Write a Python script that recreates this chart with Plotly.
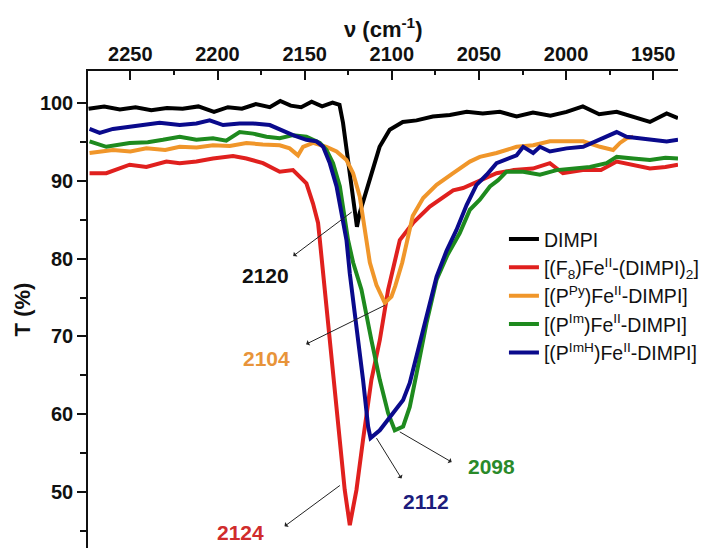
import plotly.graph_objects as go

# ---------------- data ----------------
nu_dimpi = [2274, 2265, 2256, 2247, 2238, 2229, 2220, 2211, 2202, 2194, 2186, 2178, 2170, 2164,
            2158, 2152, 2146, 2140, 2134, 2130, 2128, 2126, 2124, 2122, 2120, 2118.4, 2115.5, 2112.7,
            2107, 2101.2, 2093.7, 2085.8, 2076.5, 2066.7, 2057, 2047.8, 2038, 2028.4, 2019, 2009,
            1999.7, 1990.4, 1981, 1971, 1961.5, 1951.9, 1942.3, 1935.8]
t_dimpi = [99.3, 99.6, 99.2, 99.5, 99.1, 99.4, 99.3, 99.6, 98.9, 99.5, 99.3, 99.9, 99.5, 100.3,
           99.7, 99.5, 100.2, 99.6, 100.1, 99.8, 97.5, 94.0, 90.5, 87.0, 84.1, 85.9, 88.0, 90.1,
           94.4, 96.6, 97.6, 97.8, 98.3, 98.5, 98.9, 98.7, 98.9, 98.3, 98.8, 98.4,
           98.9, 99.6, 98.6, 98.9, 98.3, 97.6, 98.7, 98.1]

nu_f8 = [2273.4, 2263.8, 2250.4, 2240.8, 2229.3, 2221.7, 2212.1, 2202.6, 2191.1, 2183.4, 2173.9,
         2164.3, 2156.7, 2149, 2145.2, 2142.3, 2141.3, 2137.5, 2133.7, 2129.8, 2127, 2124.1,
         2120.3, 2116.5, 2111.7, 2106.9, 2102.1, 2095.4, 2087.8, 2078.2, 2064.8, 2059.1, 2049.5,
         2039.9, 2030, 2019.1, 2009.3, 2001.8, 1990.4, 1980, 1971, 1961.7, 1951.9, 1943, 1935.8]
t_f8 = [91.0, 91.0, 92.1, 91.8, 92.5, 92.3, 92.5, 92.9, 93.2, 92.9, 92.3,
        91.2, 91.4, 89.7, 87.1, 84.6, 82.4, 73.8, 65.2, 56.7, 50.2, 45.7,
        50.2, 56.7, 64.4, 69.5, 76.0, 82.4, 84.6, 86.7, 88.8, 89.1, 90.1,
        91.0, 91.4, 91.6, 92.3, 91.0, 91.4, 91.4, 92.5, 92.1, 91.6, 91.8, 92.1]

nu_ppy = [2273.4, 2260, 2250, 2240.8, 2230, 2221.7, 2212, 2202.6, 2193, 2183.4, 2174, 2164.3,
          2158.6, 2153.8, 2150.9, 2145.2, 2137.5, 2131.7, 2126, 2122.2, 2118.4, 2115.5, 2112.6,
          2108.8, 2104, 2100.2, 2098, 2094, 2091, 2088, 2082, 2074.3, 2064.8, 2055.2, 2049.5,
          2039.9, 2028.4, 2018.9, 2009.3, 1999.7, 1990.2, 1980.6, 1973, 1969.1, 1965.3, 1961.5]
t_ppy = [93.6, 94.0, 93.8, 94.2, 94.0, 94.4, 94.3, 94.6, 94.5, 94.9, 94.7, 94.6,
         94.2, 93.3, 94.4, 94.9, 94.4, 93.8, 92.7, 91.0, 88.0, 83.7, 79.5,
         76.6, 74.3, 75.1, 76.5, 79.5, 82.5, 85.5, 87.8, 89.5, 91.0, 92.5, 93.1,
         93.6, 94.4, 94.6, 95.1, 95.1, 95.1, 94.4, 94.0, 94.9, 95.5, 95.7]

nu_pim = [2273.4, 2263.8, 2250.4, 2240, 2231.3, 2221.7, 2212.1, 2202.6, 2195, 2187.3, 2179.6,
          2171.9, 2164.3, 2156.7, 2149, 2141.3, 2137.5, 2133.7, 2129.8, 2127, 2125.1, 2122.2,
          2117.4, 2111.7, 2106.9, 2102.1, 2098.3, 2093.5, 2089.7, 2085.8, 2080.1, 2074.3,
          2068, 2061, 2055.2, 2049.5, 2043.7, 2039, 2034.2, 2024.6, 2015, 2005.5, 1995.9,
          1986.3, 1976.8, 1971, 1961.5, 1951.9, 1943, 1935.8]
t_pim = [95.1, 94.4, 94.9, 95.0, 95.3, 95.7, 95.3, 95.5, 95.2, 96.3, 96.1,
         95.7, 95.5, 95.9, 95.7, 94.9, 94.0, 92.3, 89.3, 85.0, 82.4, 79.5,
         76.0, 69.5, 64.4, 60.1, 57.9, 58.4, 60.9, 65.2, 71.7, 77.3,
         80.5, 83.3, 86.3, 87.6, 89.3, 90.1, 91.2, 91.2, 90.8, 91.4, 91.6,
         91.8, 92.3, 93.1, 92.9, 92.7, 93.0, 92.9]

nu_pimh = [2273.4, 2267.6, 2260, 2250.4, 2240.8, 2233.2, 2221.7, 2212.1, 2204.5, 2196.8, 2187.3,
           2179.6, 2170, 2164.3, 2156.7, 2149, 2143.2, 2139.4, 2135.6, 2131.7, 2128.9, 2126,
           2124.1, 2120.3, 2116.5, 2113.6, 2112.2, 2106.9, 2099.3, 2093.5, 2089.7, 2085.8,
           2080.1, 2074.3, 2068.6, 2062.9, 2057.1, 2051.4, 2045.6, 2039.9, 2028.4, 2024.6,
           2018.9, 2015, 2009.3, 1999.7, 1990.2, 1980.6, 1971, 1965.3, 1957.6, 1951.9, 1942.3, 1935.8]
t_pimh = [96.7, 96.2, 96.7, 97.0, 97.2, 97.5, 97.2, 97.4, 97.8, 97.2, 97.4,
          97.4, 97.2, 96.6, 95.9, 95.3, 95.1, 94.4, 92.3, 89.3, 85.8, 82.4,
          78.1, 71.7, 64.4, 58.4, 56.9, 57.9, 60.1, 61.8, 64.0, 67.4,
          72.5, 77.7, 81.0, 83.7, 86.9, 89.5, 90.8, 92.3, 93.3, 94.4,
          93.6, 94.4, 93.8, 94.2, 94.4, 95.3, 96.3, 95.7, 95.5, 95.3, 95.1, 95.3]

series_names = ["DIMPI",
                "[(F<sub>8</sub>)Fe<sup>II</sup>-(DIMPI)<sub>2</sub>]",
                "[(P<sup>Py</sup>)Fe<sup>II</sup>-DIMPI]",
                "[(P<sup>Im</sup>)Fe<sup>II</sup>-DIMPI]",
                "[(P<sup>ImH</sup>)Fe<sup>II</sup>-DIMPI]"]
series_x = [nu_dimpi, nu_f8, nu_ppy, nu_pim, nu_pimh]
series_y = [t_dimpi, t_f8, t_ppy, t_pim, t_pimh]
series_colors = ["#000000", "#E0201E", "#F0962A", "#1E8A1E", "#0A0A8C"]

# peak labels: text, text position, arrow tail (on curve), arrow head, colour
peak_labels = ["2120", "2104", "2124", "2112", "2098"]
label_pos = [(2172.3, 77.8), (2171.9, 67.1), (2187.0, 44.7), (2080.6, 48.8), (2043.0, 53.3)]
arrow_tail = [(2123.0, 86.0), (2104.0, 74.0), (2129.8, 50.8), (2108.8, 56.9), (2095.4, 57.7)]
arrow_head = [(2157.4, 80.2), (2150.0, 68.9), (2162.4, 45.4), (2093.9, 51.5), (2064.8, 53.7)]
label_colors = ["#111111", "#E8943A", "#D02C2C", "#1C1C7C", "#2A8A2A"]

x_range = [2274.3, 1935.8]
y_range = [42.75, 104.16]

FONT = "Liberation Sans, Arial, sans-serif"

fig = go.Figure()
for i, (name, xs, ys, c) in enumerate(zip(series_names, series_x, series_y, series_colors)):
    fig.add_trace(go.Scatter(x=xs, y=ys, mode="lines", name=name, legendgroup=f"g{i}",
                             line=dict(color=c, width=4)))

for txt, (tx, ty), (sx, sy), (hx, hy), c in zip(peak_labels, label_pos, arrow_tail,
                                                arrow_head, label_colors):
    fig.add_annotation(x=sx, y=sy, ax=hx, ay=hy, xref="x", yref="y", axref="x", ayref="y",
                       text="", showarrow=True, arrowside="start", arrowhead=2,
                       arrowsize=1.4, arrowwidth=1, arrowcolor="#222222")
    fig.add_annotation(x=tx, y=ty, xref="x", yref="y", text=txt, showarrow=False,
                       font=dict(family=FONT, size=21, color=c, weight="bold"))

# top axis title placed above the tick labels
fig.add_annotation(x=0.5, y=1, xref="paper", yref="paper", xanchor="center", yanchor="bottom",
                   yshift=27, showarrow=False, text="ν (cm<sup>-1</sup>)",
                   font=dict(family=FONT, size=22, color="#111111", weight="bold"))

fig.update_layout(
    width=705, height=548,
    margin=dict(l=88, r=27, t=71, b=0, autoexpand=False),
    plot_bgcolor="white", paper_bgcolor="white",
    font=dict(family=FONT, color="#111111"),
    showlegend=True,
    legend=dict(x=0.705, y=0.688, xanchor="left", yanchor="top",
                bgcolor="rgba(0,0,0,0)", font=dict(family=FONT, size=19.5, color="#111111"),
                tracegroupgap=0),
)
fig.update_xaxes(
    range=x_range, side="top", showline=True, linecolor="#111111", linewidth=1.5,
    ticks="inside", ticklen=9, tickwidth=1.5, tickcolor="#111111", dtick=50, tick0=2000,
    minor=dict(ticks="inside", ticklen=4, tickwidth=1.5, tickcolor="#111111", dtick=25, tick0=2000),
    showgrid=False, zeroline=False, mirror=False,
    tickfont=dict(family=FONT, size=20, color="#111111", weight="bold"),
    automargin=False,
)
fig.update_yaxes(
    range=y_range, showline=True, linecolor="#111111", linewidth=1.5,
    ticks="outside", ticklen=9, tickwidth=1.5, tickcolor="#111111", dtick=10, tick0=50,
    minor=dict(ticks="outside", ticklen=6, tickwidth=1.5, tickcolor="#111111", dtick=5, tick0=50),
    showgrid=False, zeroline=False,
    tickfont=dict(family=FONT, size=20, color="#111111", weight="bold"),
    title=dict(text="T (%)", standoff=3,
               font=dict(family=FONT, size=22, color="#111111", weight="bold")),
    automargin=False,
)

fig.write_html("out.html")
